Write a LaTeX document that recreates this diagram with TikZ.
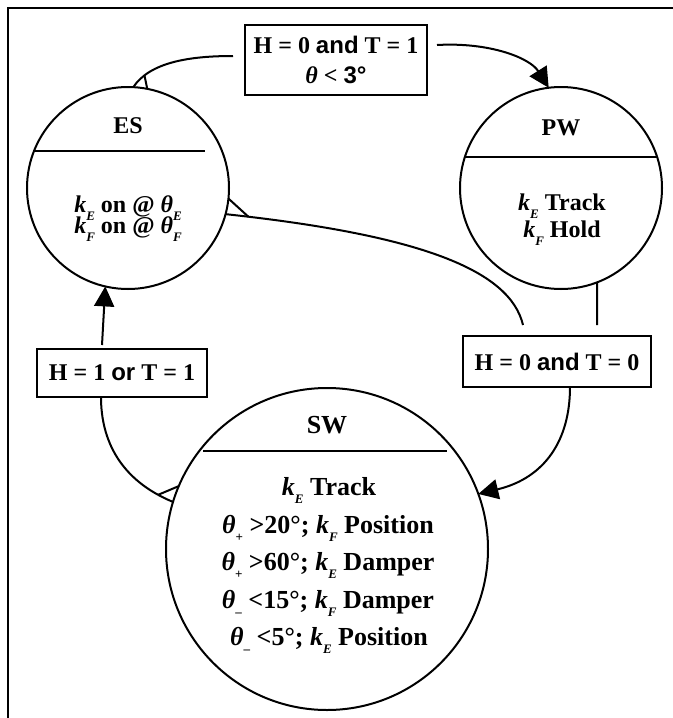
\documentclass[tikz,border=0pt]{standalone}
\usepackage{fontspec}
\setmainfont{Liberation Serif}
\newfontfamily\arialf{Liberation Sans}
\usetikzlibrary{arrows.meta,calc}
\newcommand\sbx[1]{\raisebox{-4pt}{\fontsize{6.5}{7}\selectfont #1}}
\newcommand\kv[1]{\textit{k}\sbx{\textit{#1}}}
\newcommand\thv[1]{\textit{θ}\sbx{#1}}
\begin{document}
\begin{tikzpicture}[x=0.5pt,y=-0.5pt,
  font=\bfseries\fontsize{12}{14}\selectfont,
  state/.style={circle,draw,line width=1pt,inner sep=0pt,outer sep=0pt},
  cond/.style={rectangle,draw,line width=1pt,inner sep=0pt,outer sep=0pt,align=center},
  conn/.style={line width=1pt},
  arr/.style={conn,-{Triangle[length=10pt,width=10pt]}},
  tick/.style={line width=1pt},
  lbl/.style={inner sep=0pt,anchor=base},
  big/.style={font=\bfseries\fontsize{13}{15}\selectfont}]
\useasboundingbox (0,0) rectangle (673,718);
\draw[line width=1pt] (8,718) -- (8,8) -- (673,8);

% states
\node[state,minimum size=101pt] (ES) at (128,188) {};
\node[state,minimum size=101pt] (PW) at (561,188) {};
\node[state,minimum size=161pt] (SW) at (327,549) {};

% dividers
\draw[conn] ($(ES.center)+(-94,-37)$) -- ($(ES.center)+(77,-37)$);
\draw[conn] ($(PW.center)+(-96,-31)$) -- ($(PW.center)+(96,-31)$);
\draw[conn] ($(SW.center)+(-124,-98)$) -- ($(SW.center)+(120,-98)$);

% state texts
\node[lbl] (EStitle) at (128,133) {ES};
\node[lbl] (ESa) at (128,212) {\kv{E} on @ \thv{\textit{E}}};
\node[lbl] (ESb) at (128,233) {\kv{F} on @ \thv{\textit{F}}};

\node[lbl] (PWtitle) at (561,135) {PW};
\node[lbl] (PWa) at (562,210) {\kv{E} Track};
\node[lbl] (PWb) at (562,237) {\kv{F} Hold};

\node[lbl,big] (SWtitle) at (327,433) {SW};
\node[lbl,big] (SWa) at (329,495) {\kv{E} Track};
\node[lbl,big] (SWb) at (328,533) {\thv{+} >20°; \kv{F} Position};
\node[lbl,big] (SWc) at (328,570) {\thv{+} >60°; \kv{E} Damper};
\node[lbl,big] (SWd) at (328,608) {\thv{–} <15°; \kv{F} Damper};
\node[lbl,big] (SWe) at (329,645) {\thv{–} <5°; \kv{E} Position};

% condition boxes
\node[cond,minimum width=91pt,minimum height=35pt] (top) at (336,60)
  {H = 0 {\arialf and} T = 1\\[1pt] \textit{θ} < {\arialf 3°}};
\node[cond,minimum width=85pt,minimum height=24pt] (lbox) at (122,373)
  {H = 1 {\arialf or} T = 1};
\node[cond,minimum width=94pt,minimum height=25.5pt] (rbox) at (557,361.5)
  {H = 0 {\arialf and} T = 0};

% ES -> top box -> PW
\draw[conn] (ES.87) .. controls (150,62) and (190,56) .. ([shift={(-12,-4)}]top.west)
  coordinate[pos=0.18] (t1);
\draw[tick] (ES.79) -- (t1);
\draw[arr] ([shift={(10,-15)}]top.east) .. controls (490,42) and (530,58) .. (PW.97);

% PW -> rbox, ES -> rbox, rbox -> SW
\draw[conn] (PW.-69) -- ([shift={(40,-11)}]rbox.north);
\draw[conn] (ES.-15) .. controls (420,235) and (510,270) .. ([shift={(-34,-11)}]rbox.north)
  coordinate[pos=0.04] (t2);
\draw[tick] (ES.-6) -- (t2);
\draw[arr] ([xshift=6.5pt]rbox.south) .. controls (570,440) and (545,478) .. (SW.20);

% SW -> lbox -> ES
\draw[conn] (SW.163) .. controls (120,480) and (101,440) .. ([xshift=-10.5pt]lbox.south)
  coordinate[pos=0.1] (t3);
\draw[tick] (SW.157) -- (t3);
\draw[arr] ([shift={(-20,-4)}]lbox.north) -- (ES.-103);
\end{tikzpicture}
\end{document}
